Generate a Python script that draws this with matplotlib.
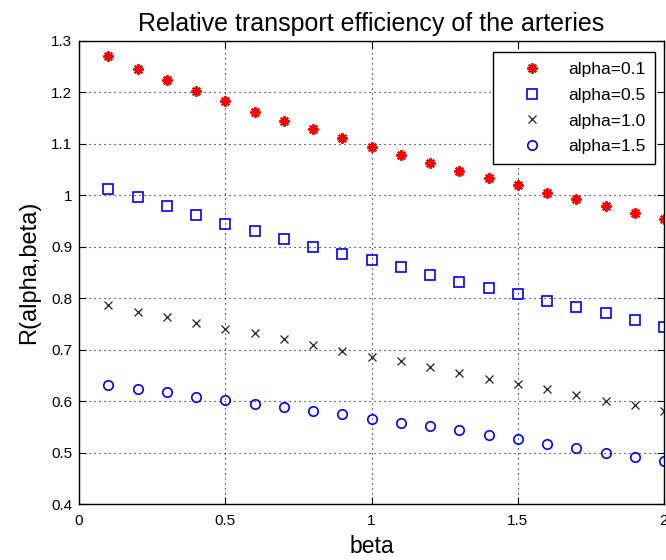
import numpy as np
import matplotlib.pyplot as plt
from matplotlib.ticker import FuncFormatter

plt.rcParams['font.family'] = ['Liberation Sans', 'DejaVu Sans']

beta = [0.1, 0.2, 0.3, 0.4, 0.5, 0.6, 0.7, 0.8, 0.9, 1.0,
        1.1, 1.2, 1.3, 1.4, 1.5, 1.6, 1.7, 1.8, 1.9, 2.0]

r_a01 = [1.270, 1.245, 1.225, 1.202, 1.183, 1.162, 1.145, 1.128, 1.112, 1.094,
         1.079, 1.062, 1.048, 1.033, 1.020, 1.005, 0.993, 0.980, 0.965, 0.954]
r_a05 = [1.013, 0.996, 0.980, 0.962, 0.945, 0.931, 0.916, 0.899, 0.885, 0.874,
         0.860, 0.845, 0.831, 0.820, 0.808, 0.794, 0.782, 0.771, 0.757, 0.745]
r_a10 = [0.786, 0.774, 0.763, 0.751, 0.740, 0.732, 0.720, 0.709, 0.697, 0.686,
         0.678, 0.666, 0.654, 0.643, 0.634, 0.623, 0.611, 0.600, 0.592, 0.580]
r_a15 = [0.631, 0.623, 0.617, 0.608, 0.603, 0.594, 0.588, 0.580, 0.574, 0.566,
         0.557, 0.552, 0.543, 0.534, 0.526, 0.517, 0.509, 0.500, 0.492, 0.483]

labels = ['alpha=0.1', 'alpha=0.5', 'alpha=1.0', 'alpha=1.5']

fig = plt.figure(figsize=(6.66, 5.6), dpi=100)
ax = fig.add_axes([79/666, 1-504/560, (664-79)/666, (504-41)/560])

ax.plot(beta, r_a01, linestyle='none', marker=(8, 2, 0), ms=7.5, mew=1.5,
        color='red', label=labels[0])
ax.plot(beta, r_a05, linestyle='none', marker='s', ms=7.2, mew=1.2,
        mfc='none', mec='blue', label=labels[1])
ax.plot(beta, r_a10, linestyle='none', marker='x', ms=5.5, mew=0.9,
        color='#222222', label=labels[2])
ax.plot(beta, r_a15, linestyle='none', marker='o', ms=6.8, mew=1.2,
        mfc='none', mec='blue', label=labels[3])

ax.set_xlim(0, 2)
ax.set_ylim(0.4, 1.3)
ax.set_xticks([0, 0.5, 1, 1.5, 2])
ax.set_yticks(np.round(np.arange(0.4, 1.31, 0.1), 1))
ax.xaxis.set_major_formatter(FuncFormatter(lambda v, p: '%g' % v))
ax.yaxis.set_major_formatter(FuncFormatter(lambda v, p: '%g' % v))
ax.tick_params(direction='in', length=5, width=0.8, top=True, right=True,
               labelsize=11)
ax.tick_params(axis='x', pad=7)
ax.tick_params(axis='y', pad=5)
ax.grid(True, color='black', linestyle=(0, (1, 3.5)), linewidth=0.8)
for s in ax.spines.values():
    s.set_linewidth(1.0)

ax.set_title('Relative transport efficiency of the arteries', fontsize=18, pad=7)
ax.set_xlabel('beta', fontsize=16.5, labelpad=5)
ax.set_ylabel('R(alpha,beta)', fontsize=17, labelpad=8)

leg = ax.legend(loc='upper right', bbox_to_anchor=(655/666, 1-52/560),
                bbox_transform=fig.transFigure, fontsize=12.5,
                handlelength=3.4, handletextpad=0.35, labelspacing=0.62,
                borderpad=0.55, borderaxespad=0, fancybox=False, framealpha=1,
                edgecolor='black')
leg.get_frame().set_linewidth(1.0)

fig.savefig('out.png', dpi=100)
